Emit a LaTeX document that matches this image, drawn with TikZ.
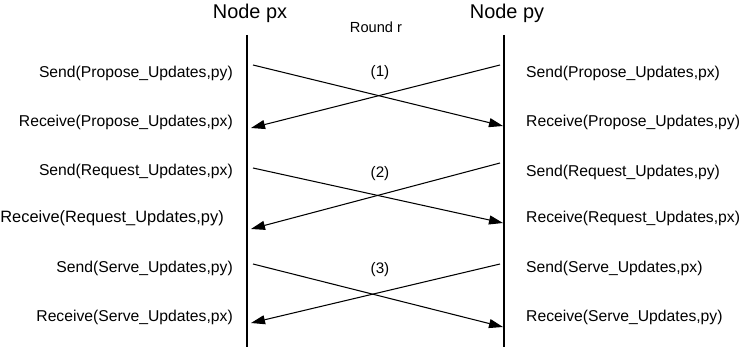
\documentclass[tikz,border=0pt]{standalone}
\usepackage{fontspec}
\setmainfont{Liberation Sans}
\usetikzlibrary{arrows.meta}

\begin{document}
\begin{tikzpicture}[x=0.03cm,y=-0.03cm]
  \useasboundingbox (0,0) rectangle (740,347);
  % titles
  \node[font=\fontsize{17}{19}\selectfont] (px) at (250,13) {Node px};
  \node[font=\fontsize{17}{19}\selectfont] (py) at (507,13) {Node py};
  \node[font=\fontsize{12.5}{14}\selectfont] (round) at (376,27) {Round r};
  % life lines
  \coordinate (pxtop) at (247,35);
  \coordinate (pxbot) at (247,347);
  \coordinate (pytop) at (504,35);
  \coordinate (pybot) at (504,347);
  \draw[line width=2.4pt] (pxtop) -- (pxbot);
  \draw[line width=2.4pt] (pytop) -- (pybot);
  % message ends
  \coordinate (sx1) at (253,65);  \coordinate (ry1) at (503,126);
  \coordinate (sy1) at (500,65);  \coordinate (rx1) at (251,128);
  \coordinate (sx2) at (253,168); \coordinate (ry2) at (503,223);
  \coordinate (sy2) at (500,163); \coordinate (rx2) at (251,229);
  \coordinate (sx3) at (253,264); \coordinate (ry3) at (503,327);
  \coordinate (sy3) at (500,264); \coordinate (rx3) at (251,323);
  \draw[line width=0.9pt,-{Triangle[length=0.42cm,width=0.27cm]}] (sx1) -- (ry1);
  \draw[line width=0.9pt,-{Triangle[length=0.42cm,width=0.27cm]}] (sy1) -- (rx1);
  \draw[line width=0.9pt,-{Triangle[length=0.42cm,width=0.27cm]}] (sx2) -- (ry2);
  \draw[line width=0.9pt,-{Triangle[length=0.42cm,width=0.27cm]}] (sy2) -- (rx2);
  \draw[line width=0.9pt,-{Triangle[length=0.42cm,width=0.27cm]}] (sx3) -- (ry3);
  \draw[line width=0.9pt,-{Triangle[length=0.42cm,width=0.27cm]}] (sy3) -- (rx3);
  \node[font=\fontsize{13}{15}\selectfont] (n1) at (380,73) {(1)};
  \node[font=\fontsize{13}{15}\selectfont] (n2) at (380,174) {(2)};
  \node[font=\fontsize{13}{15}\selectfont] (n3) at (380,270) {(3)};
  % events at px
  \node[left,inner sep=0pt,font=\fontsize{13.4}{15}\selectfont] (ex1) at (233,73) {Send(Propose\_Updates,py)};
  \node[left,inner sep=0pt,font=\fontsize{13.4}{15}\selectfont] (ex2) at (233,122) {Receive(Propose\_Updates,px)};
  \node[left,inner sep=0pt,font=\fontsize{13.4}{15}\selectfont] (ex3) at (233,171) {Send(Request\_Updates,px)};
  \node[left,inner sep=0pt,font=\fontsize{14}{16}\selectfont] (ex4) at (224,218) {Receive(Request\_Updates,py)};
  \node[left,inner sep=0pt,font=\fontsize{13.4}{15}\selectfont] (ex5) at (233,268) {Send(Serve\_Updates,py)};
  \node[left,inner sep=0pt,font=\fontsize{13.4}{15}\selectfont] (ex6) at (233,317) {Receive(Serve\_Updates,px)};
  % events at py
  \node[right,inner sep=0pt,font=\fontsize{13.4}{15}\selectfont] (ey1) at (526,73) {Send(Propose\_Updates,px)};
  \node[right,inner sep=0pt,font=\fontsize{13.4}{15}\selectfont] (ey2) at (526,122) {Receive(Propose\_Updates,py)};
  \node[right,inner sep=0pt,font=\fontsize{13.4}{15}\selectfont] (ey3) at (526,172) {Send(Request\_Updates,py)};
  \node[right,inner sep=0pt,font=\fontsize{13.4}{15}\selectfont] (ey4) at (526,218) {Receive(Request\_Updates,px)};
  \node[right,inner sep=0pt,font=\fontsize{13.4}{15}\selectfont] (ey5) at (526,268) {Send(Serve\_Updates,px)};
  \node[right,inner sep=0pt,font=\fontsize{13.4}{15}\selectfont] (ey6) at (526,317) {Receive(Serve\_Updates,py)};
\end{tikzpicture}
\end{document}
